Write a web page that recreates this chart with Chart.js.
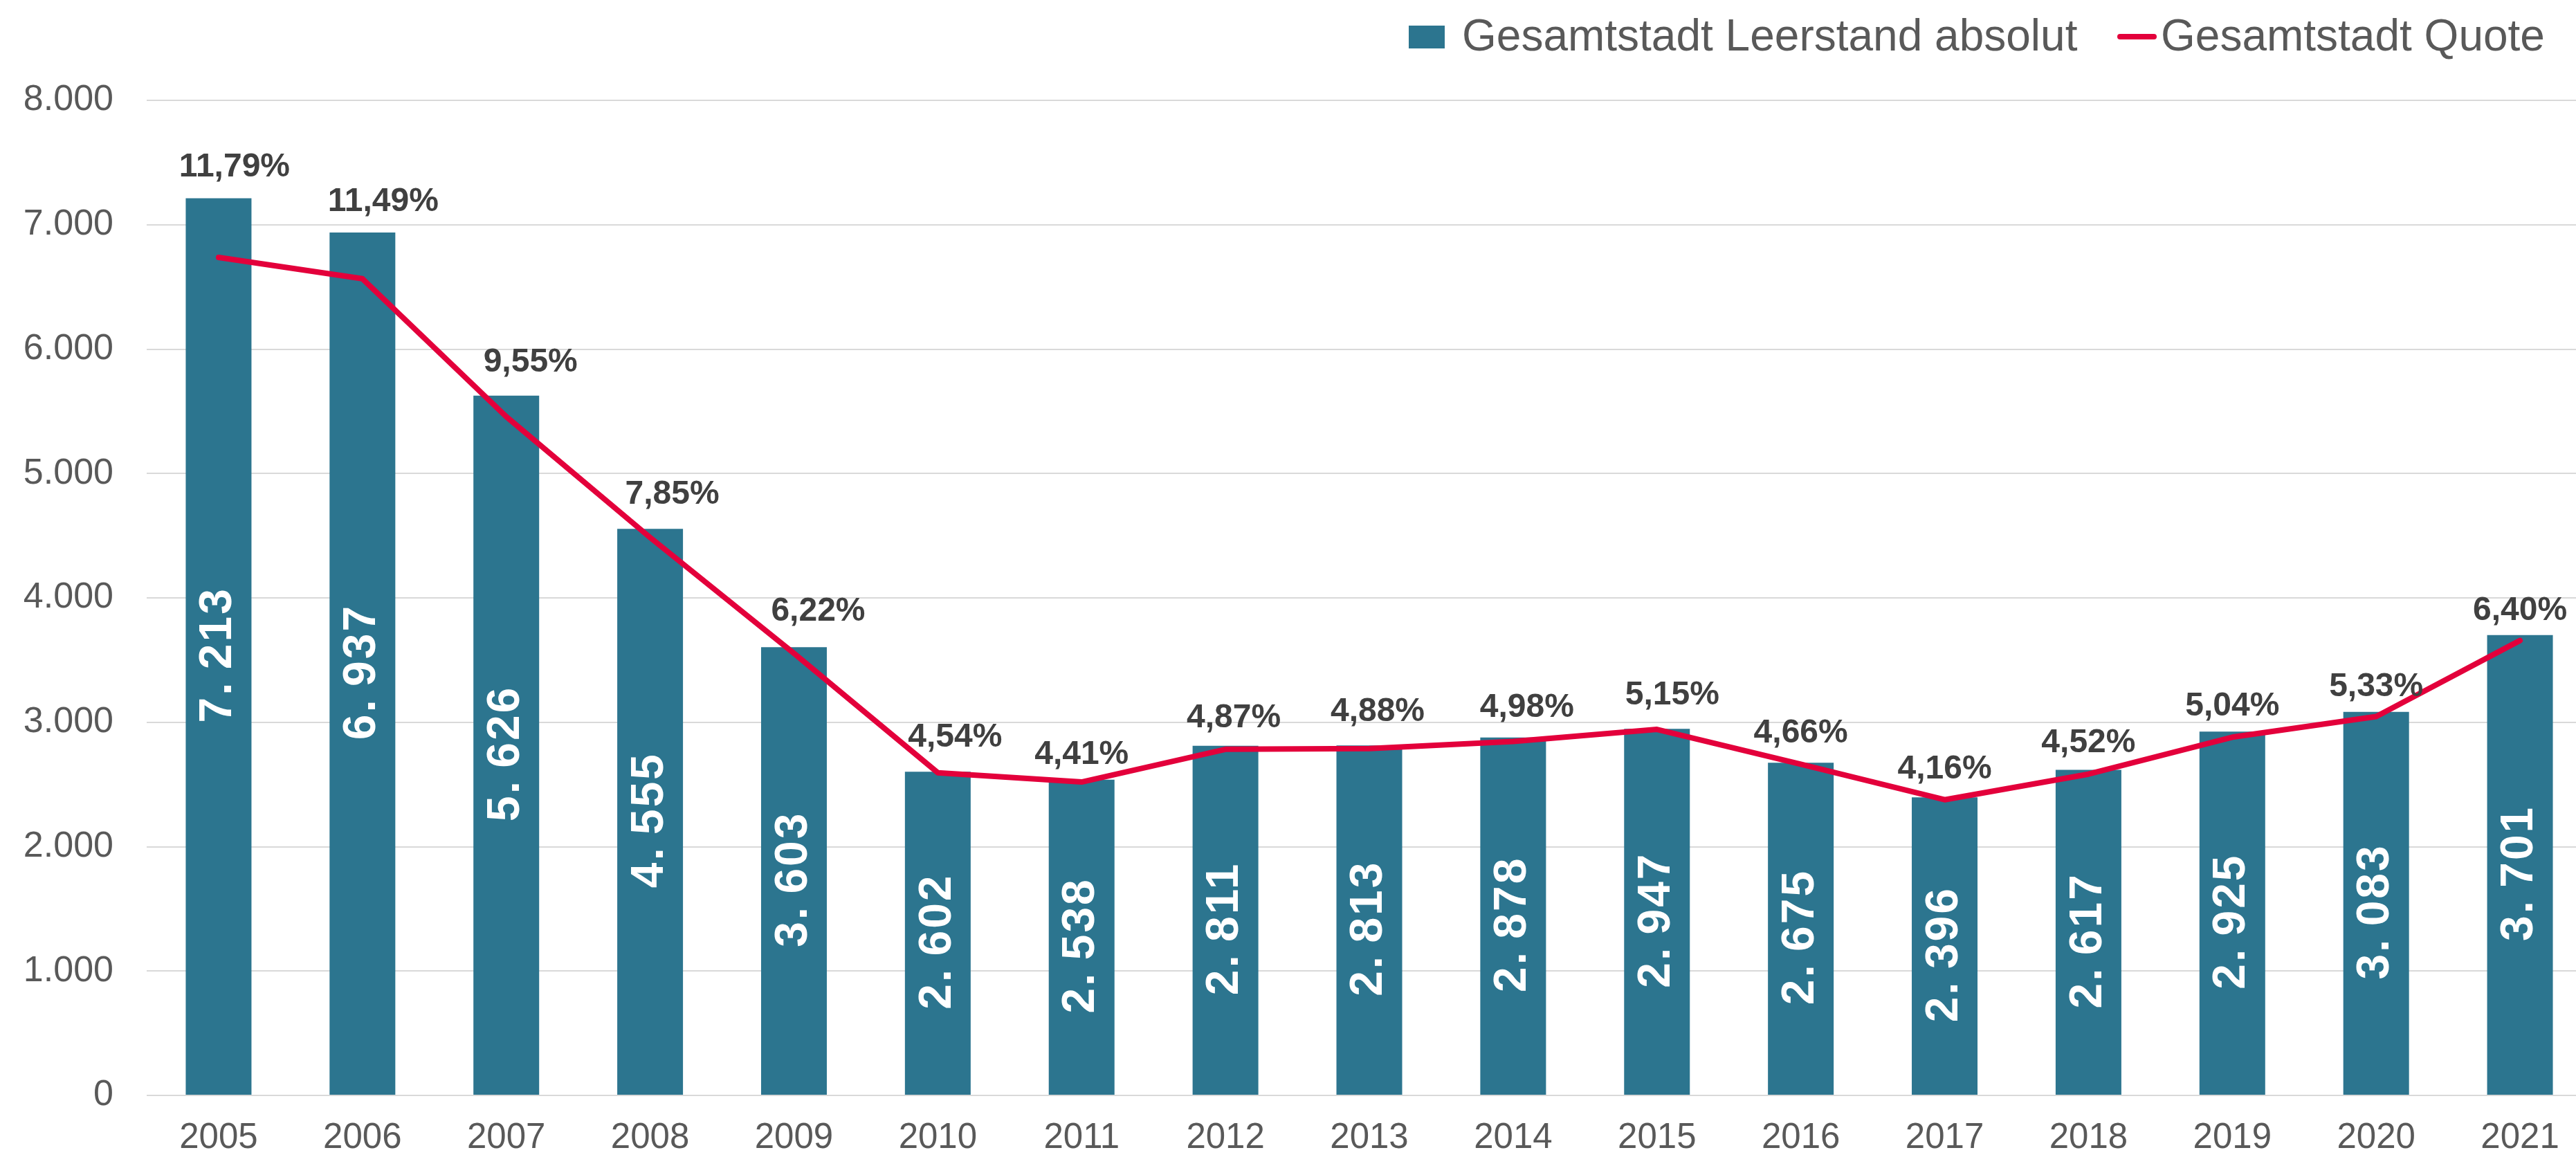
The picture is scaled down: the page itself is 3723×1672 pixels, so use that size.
<!DOCTYPE html>
<html>
<head>
<meta charset="utf-8">
<script src="https://cdn.jsdelivr.net/npm/chart.js@4.4.1/dist/chart.umd.min.js"></script>
<style>
  html, body { margin: 0; padding: 0; background: #ffffff; overflow: hidden; }
  #wrap { width: 3723px; height: 1672px; overflow: hidden; position: relative; }
  canvas { display: block; }
</style>
</head>
<body>
<div id="wrap"><canvas id="c" width="3748" height="1672"></canvas></div>
<script>
// ---- data ----
const years = ['2005','2006','2007','2008','2009','2010','2011','2012','2013','2014','2015','2016','2017','2018','2019','2020','2021'];
const leerstandAbsolut = [7213, 6937, 5626, 4555, 3603, 2602, 2538, 2811, 2813, 2878, 2947, 2675, 2396, 2617, 2925, 3083, 3701];
const leerstandQuote = [11.79, 11.49, 9.55, 7.85, 6.22, 4.54, 4.41, 4.87, 4.88, 4.98, 5.15, 4.66, 4.16, 4.52, 5.04, 5.33, 6.40];
const seriesNames = ['Gesamtstadt Leerstand absolut', 'Gesamtstadt Quote'];
const yTicks = [0, 1000, 2000, 3000, 4000, 5000, 6000, 7000, 8000];

// ---- styling (label nudges, px) ----
const pctLabelDx = [23, 30, 35, 32, 35, 25, 0, 12, 12, 20, 22, 0, 0, 0, 0, 0, 0];
const pctLabelUp = [45, 44, 48, 49, 52, 50, 36, 40, 49, 43, 49, 42, 41, 39, 36, 36, 35];

const BAR = '#2C758F';
const RED = '#E3003B';
const GREY = '#595959';
const FONT = "'Liberation Sans', Arial, sans-serif";

function fmtThousand(v) {
  const s = String(Math.round(v));
  return s.replace(/\B(?=(\d{3})+(?!\d))/g, '.');
}
function fmtBar(v) {
  const th = Math.floor(v / 1000);
  const rest = String(v % 1000).padStart(3, '0');
  return th + '.\u2009' + rest;
}
function fmtPct(v) {
  return v.toFixed(2).replace('.', ',') + '%';
}

const labelPlugin = {
  id: 'labels',
  afterDatasetsDraw(chart) {
    const ctx = chart.ctx;
    const barMeta = chart.getDatasetMeta(0);
    ctx.save();
    // bar value labels (rotated, white)
    barMeta.data.forEach((el, i) => {
      const p = el.getProps(['x', 'y', 'base'], true);
      const cy = (p.y + p.base) / 2 + 12;
      ctx.save();
      ctx.translate(p.x, cy);
      ctx.rotate(-Math.PI / 2);
      ctx.font = 'bold 66px ' + FONT;
      try { ctx.letterSpacing = '3px'; } catch (e) {}
      ctx.fillStyle = '#FFFFFF';
      ctx.textAlign = 'center';
      ctx.textBaseline = 'middle';
      ctx.fillText(fmtBar(leerstandAbsolut[i]), 0, 0);
      ctx.restore();
    });
    // percentage labels above bars
    ctx.font = 'bold 48px ' + FONT;
    try { ctx.letterSpacing = '0px'; } catch (e) {}
    ctx.fillStyle = '#404040';
    ctx.textAlign = 'center';
    ctx.textBaseline = 'middle';
    barMeta.data.forEach((el, i) => {
      const p = el.getProps(['x', 'y'], true);
      ctx.fillText(fmtPct(leerstandQuote[i]), p.x + pctLabelDx[i], p.y - pctLabelUp[i]);
    });
    ctx.restore();
  },
  afterDraw(chart) {
    // legend
    const ctx = chart.ctx;
    ctx.save();
    ctx.fillStyle = BAR;
    ctx.fillRect(2036, 37, 52, 33);
    ctx.font = '64px ' + FONT;
    ctx.fillStyle = GREY;
    ctx.textAlign = 'left';
    ctx.textBaseline = 'alphabetic';
    ctx.fillText(seriesNames[0], 2113, 73);
    ctx.strokeStyle = RED;
    ctx.lineWidth = 8;
    ctx.lineCap = 'round';
    ctx.beginPath();
    ctx.moveTo(3064, 53);
    ctx.lineTo(3113, 53);
    ctx.stroke();
    ctx.fillText(seriesNames[1], 3123, 73);
    ctx.restore();
  }
};

new Chart(document.getElementById('c'), {
  data: {
    labels: years,
    datasets: [
      {
        type: 'bar',
        label: seriesNames[0],
        data: leerstandAbsolut,
        backgroundColor: BAR,
        borderWidth: 0,
        categoryPercentage: 1,
        barPercentage: 0.457,
        yAxisID: 'y',
        order: 2
      },
      {
        type: 'line',
        label: seriesNames[1],
        data: leerstandQuote,
        borderColor: RED,
        backgroundColor: RED,
        borderWidth: 8,
        borderCapStyle: 'round',
        borderJoinStyle: 'round',
        pointRadius: 0,
        tension: 0,
        fill: false,
        yAxisID: 'y2',
        order: 1
      }
    ]
  },
  options: {
    responsive: false,
    animation: false,
    devicePixelRatio: 1,
    layout: { padding: { left: 0, top: 145, right: 2, bottom: 0 } },
    plugins: {
      legend: { display: false },
      tooltip: { enabled: false },
      title: { display: false }
    },
    scales: {
      x: {
        grid: { display: false, drawTicks: false },
        border: { display: false },
        ticks: {
          color: GREY,
          font: { family: FONT, size: 51 },
          padding: 31,
          maxRotation: 0,
          autoSkip: false
        },
        afterFit(scale) { scale.height = 89; }
      },
      y: {
        position: 'left',
        min: 0,
        max: 8000,
        afterBuildTicks(scale) { scale.ticks = yTicks.map(v => ({ value: v })); },
        grid: { color: '#D9D9D9', lineWidth: 2, drawTicks: false },
        border: { display: false },
        ticks: {
          color: GREY,
          font: { family: FONT, size: 52 },
          padding: 48,
          callback: (v) => fmtThousand(v)
        },
        afterFit(scale) { scale.width = 212; }
      },
      y2: {
        position: 'right',
        min: 0,
        max: 14,
        display: false
      }
    }
  },
  plugins: [labelPlugin]
});
</script>
</body>
</html>
